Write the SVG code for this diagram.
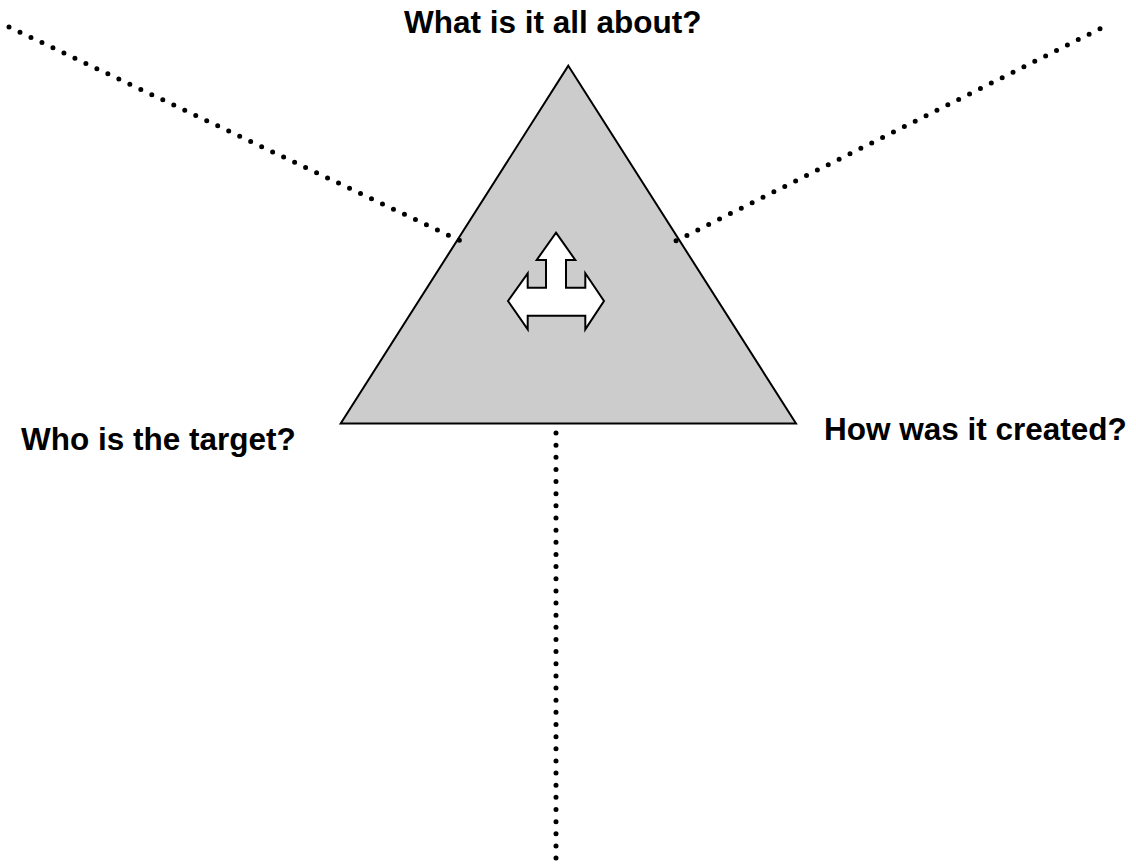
<svg xmlns="http://www.w3.org/2000/svg" width="1136" height="865" viewBox="0 0 1136 865">
<style>
.lbl{font-family:"Liberation Sans",Arial,sans-serif;font-weight:bold;font-size:31.5px;fill:#000}
.dots{fill:none;stroke:#000;stroke-width:5;stroke-linecap:round}
.shape{stroke:#000;stroke-width:2;stroke-linejoin:miter}
</style>
<rect width="1136" height="865" fill="#fff"/>
<g id="triangle">
<polygon class="shape" fill="#cccccc" points="568.3,65.7 796,423.5 340.7,423.5"/>
</g>
<g id="arrow">
<polygon class="shape" fill="#fff" points="556,232.7 575.3,260 566,260 566,287.7 585.3,287.7 585.3,273.3 604,301 585.3,329.3 585.3,315.7 527.7,315.7 527.7,329.3 508,301 527.7,273.3 527.7,287.7 546,287.7 546,260 536.7,260"/>
</g>
<g id="connectors">
<path class="dots" d="M9,27 L459.7,240.5" stroke-dasharray="0 12.155"/>
<path class="dots" d="M1100,28.7 L675.7,241" stroke-dasharray="0 12.155"/>
<path class="dots" d="M556,433 L556,858.3" stroke-dasharray="0 12.145"/>
</g>
<g id="label-top"><text class="lbl" x="404" y="33">What is it all about?</text></g>
<g id="label-left"><text class="lbl" x="21" y="450">Who is the target?</text></g>
<g id="label-right"><text class="lbl" x="824" y="440">How was it created?</text></g>
</svg>
